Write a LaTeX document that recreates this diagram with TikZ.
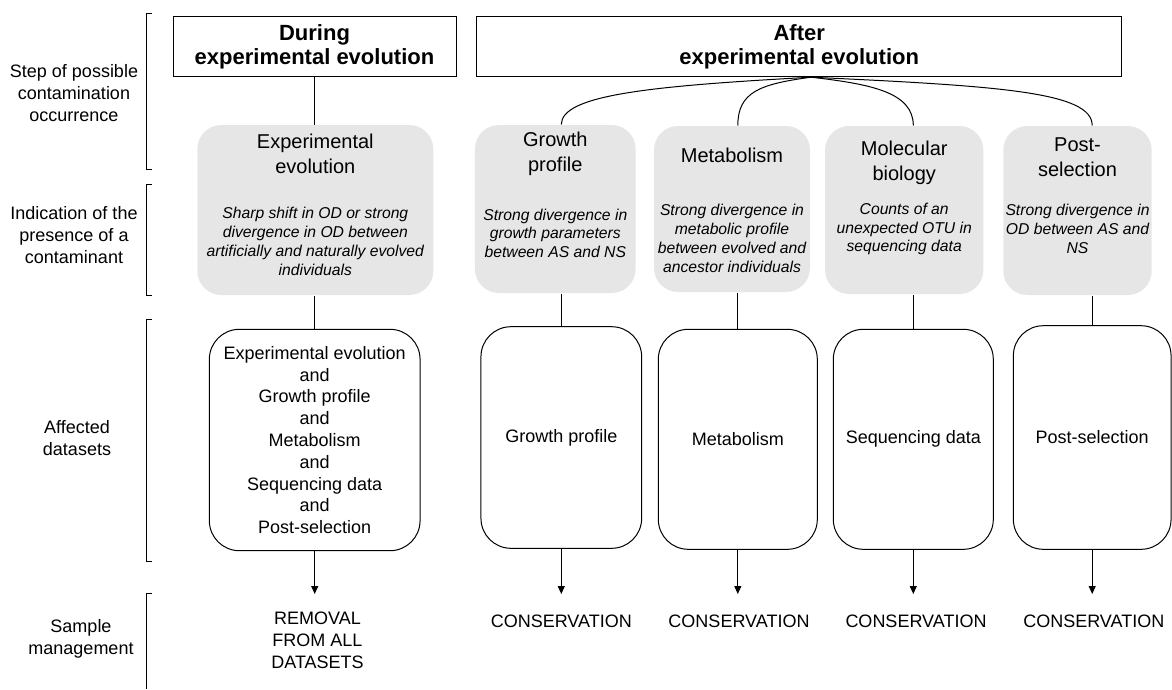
\documentclass[tikz,border=0pt]{standalone}
\usepackage{fontspec}
\setmainfont{Liberation Sans}
\usetikzlibrary{arrows.meta}
\definecolor{boxgray}{RGB}{230,230,230}
\begin{document}
\begin{tikzpicture}[x=1pt,y=-1pt, line width=1pt,
  hdr/.style={draw, inner sep=0pt, align=center, font=\bfseries\fontsize{22}{23.5}\selectfont},
  graybox/.style={fill=boxgray, rounded corners=24pt, inner sep=0pt},
  title/.style={align=center, inner sep=0pt, font=\fontsize{20}{25}\selectfont},
  desc/.style={align=center, inner sep=0pt, font=\itshape\fontsize{15.7}{18.8}\selectfont},
  whitebox/.style={draw, rounded corners=30pt, inner sep=0pt, align=center, font=\fontsize{18}{21.8}\selectfont},
  rowlabel/.style={align=center, inner sep=0pt, font=\fontsize{18}{22}\selectfont},
  outcome/.style={align=center, inner sep=0pt, font=\fontsize{18}{22}\selectfont},
  arr/.style={-{Triangle[length=8pt,width=7pt]}},
  bracket/.style={line width=1pt}
]
\useasboundingbox (0,0) rectangle (1172,689);

% row labels and brackets
\node[rowlabel] (l1) at (74,93) {Step of possible\\contamination\\occurrence};
\node[rowlabel] (l2) at (74,235.5) {Indication of the\\presence of a\\contaminant};
\node[rowlabel] (l3) at (77,438.3) {Affected\\datasets};
\node[rowlabel] (l4) at (81,639) {Sample\\management};
\draw[bracket] (152,13.3) -- (146,13.3) -- (146,169.3) -- (152,169.3);
\draw[bracket] (152,184.3) -- (146,184.3) -- (146,295) -- (152,295);
\draw[bracket] (152,319.3) -- (146,319.3) -- (146,561.7) -- (152,561.7);
\draw[bracket] (152,593) -- (146,593) -- (146,689);

% header boxes
\node[hdr, minimum width=283, minimum height=60] (during) at (314.5,46.7) {During\\experimental evolution};
\node[hdr, minimum width=645, minimum height=60] (after) at (799.2,46.7) {After\\experimental evolution};

% gray boxes
\node[graybox, minimum width=236, minimum height=170] (g1) at (315.3,210) {};
\node[graybox, minimum width=160.7, minimum height=168] (g2) at (555.3,209) {};
\node[graybox, minimum width=156, minimum height=166] (g3) at (732,209) {};
\node[graybox, minimum width=158.3, minimum height=168] (g4) at (904.2,210) {};
\node[graybox, minimum width=148.4, minimum height=169] (g5) at (1077.5,210.5) {};

\node[title] (t1) at (315.3,154.2) {Experimental\\evolution};
\node[title] (t2) at (555.3,154.2) {Growth\\profile};
\node[title] (t3) at (732,155) {Metabolism};
\node[title] (t4) at (904.2,162.5) {Molecular\\biology};
\node[title] (t5) at (1077.5,157.5) {Post-\\selection};

\node[desc] (d1) at (315.3,241.3) {Sharp shift in OD or strong\\divergence in OD between\\artificially and naturally evolved\\individuals};
\node[desc] (d2) at (555.3,233.3) {Strong divergence in\\growth parameters\\between AS and NS};
\node[desc] (d3) at (732,238.3) {Strong divergence in\\metabolic profile\\between evolved and\\ancestor individuals};
\node[desc] (d4) at (904.2,229) {Counts of an\\unexpected OTU in\\sequencing data};
\node[desc] (d5) at (1077.5,229) {Strong divergence in\\OD between AS and\\NS};

% white boxes
\node[whitebox, minimum width=210.7, minimum height=221.4] (w1) at (314.7,440) {Experimental evolution\\and\\Growth profile\\and\\Metabolism\\and\\Sequencing data\\and\\Post-selection};
\node[whitebox, minimum width=160.7, minimum height=221.6] (w2) at (561.3,437.5) {Growth profile};
\node[whitebox, minimum width=159, minimum height=220] (w3) at (737.8,439.3) {Metabolism};
\node[whitebox, minimum width=160, minimum height=220] (w4) at (913.3,439.3) {Sequencing data};
\node[whitebox, minimum width=157.7, minimum height=223.6] (w5) at (1092.2,437.5) {Post-selection};

% outcomes
\node[outcome] (o1) at (317.5,640) {REMOVAL\\FROM ALL\\DATASETS};
\node[outcome] (o2) at (561.3,621.7) {CONSERVATION};
\node[outcome] (o3) at (739,621.7) {CONSERVATION};
\node[outcome] (o4) at (916,621.7) {CONSERVATION};
\node[outcome] (o5) at (1093.8,621.7) {CONSERVATION};

% connectors
\draw (during.south) -- (during.south |- g1.north);
\coordinate (apex) at ([xshift=12pt]after.south);
\draw (apex) .. controls (650,86) and (w2.north |- 0,95) .. (w2.north |- g2.north);
\draw (apex) .. controls (760,84) and (w3.north |- 0,92) .. (w3.north |- g3.north);
\draw (apex) .. controls (870,84) and (w4.north |- 0,92) .. (w4.north |- g4.north);
\draw (apex) .. controls (1000,86) and (w5.north |- 0,92) .. (w5.north |- g5.north);

\draw (w1.north |- g1.south) -- (w1.north);
\draw (w2.north |- g2.south) -- (w2.north);
\draw (w3.north |- g3.south) -- (w3.north);
\draw (w4.north |- g4.south) -- (w4.north);
\draw (w5.north |- g5.south) -- (w5.north);

\coordinate (arrowrow) at (0,594);
\draw[arr] (w1.south) -- (w1.south |- arrowrow);
\draw[arr] (w2.south) -- (w2.south |- arrowrow);
\draw[arr] (w3.south) -- (w3.south |- arrowrow);
\draw[arr] (w4.south) -- (w4.south |- arrowrow);
\draw[arr] (w5.south) -- (w5.south |- arrowrow);
\end{tikzpicture}
\end{document}
